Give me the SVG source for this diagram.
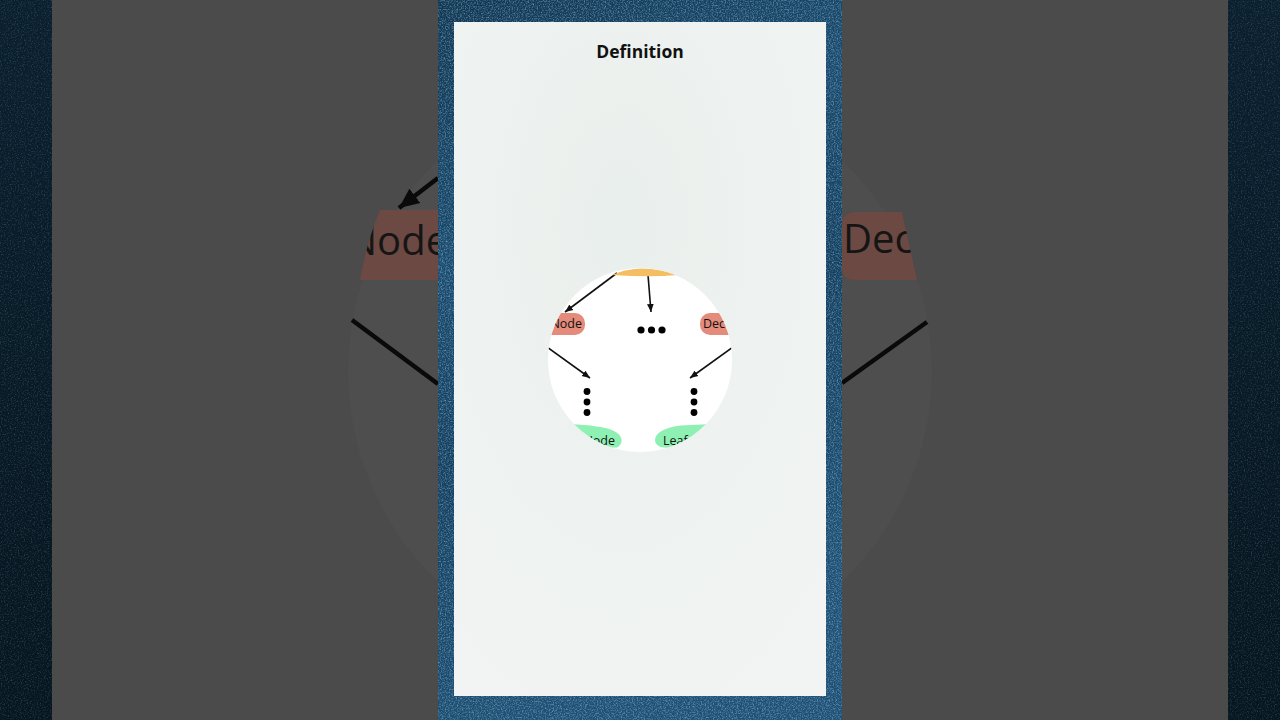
<svg xmlns="http://www.w3.org/2000/svg" width="1280" height="720" viewBox="0 0 1280 720">
<defs>
<style>
.lbl{font-family:"Open Sans","DejaVu Sans",sans-serif;font-size:12.5px;fill:#111}
.big{font-family:"Open Sans","DejaVu Sans",sans-serif;font-size:40px;fill:#151515}
.title{font-family:"Open Sans","DejaVu Sans",sans-serif;font-size:17.5px;font-weight:700;fill:#111}
.conn{stroke:#111;stroke-width:1.6;fill:none}
.connBig{stroke:#0a0a0a;stroke-width:4.5;fill:none}
.dot{fill:#000}
.salmon{fill:#e48b7b}
.green{fill:#8ff0b3}
.orange{fill:#f4be62}
</style>
<marker id="ah" markerUnits="userSpaceOnUse" markerWidth="8" markerHeight="8" viewBox="0 0 10 10" refX="10" refY="5" orient="auto"><path d="M0,0.8 L10,5 L0,9.2 Z" fill="#111"/></marker>
<marker id="ahBig" markerUnits="userSpaceOnUse" markerWidth="20" markerHeight="20" viewBox="0 0 10 10" refX="10" refY="5" orient="auto"><path d="M0,0.5 L10,5 L0,9.5 Z" fill="#0a0a0a"/></marker>
<clipPath id="circ"><circle cx="640" cy="360" r="92"/></clipPath>
<clipPath id="lp"><rect x="52" y="0" width="386" height="720"/></clipPath>
<clipPath id="rp"><rect x="842" y="0" width="386" height="720"/></clipPath>
<clipPath id="lpNode"><path d="M380,210 L438,210 L438,280 L360,280 Q366,244 380,210 Z"/></clipPath>
<clipPath id="rpNode"><path d="M842,222 Q844,212 856,212 L902,212 L917,280 L856,280 Q842,280 842,268 Z"/></clipPath>
<linearGradient id="blue" x1="0" y1="0" x2="0.3" y2="1">
<stop offset="0" stop-color="#123650"/>
<stop offset="0.35" stop-color="#1b4a6c"/>
<stop offset="0.6" stop-color="#163f5e"/>
<stop offset="1" stop-color="#1f5073"/>
</linearGradient>
<linearGradient id="edge" x1="0" y1="0" x2="0" y2="1">
<stop offset="0" stop-color="#0b1f2e"/>
<stop offset="1" stop-color="#07161f"/>
</linearGradient>
<radialGradient id="card" cx="0.45" cy="0.3" r="0.8">
<stop offset="0" stop-color="#e9efec"/>
<stop offset="0.5" stop-color="#eef2f0"/>
<stop offset="1" stop-color="#f1f4f2"/>
</radialGradient>
<filter id="noise" x="0" y="0" width="1" height="1">
<feTurbulence type="fractalNoise" baseFrequency="0.75" numOctaves="3" seed="4"/>
<feColorMatrix type="matrix" values="0 0 0 0 0.3  0 0 0 0 0.58  0 0 0 0 0.82  1.3 0 0 0 -0.55"/>
</filter>
<filter id="noiseDark" x="0" y="0" width="1" height="1">
<feTurbulence type="fractalNoise" baseFrequency="0.7" numOctaves="2" seed="9"/>
<feColorMatrix type="matrix" values="0 0 0 0 0.12  0 0 0 0 0.25  0 0 0 0 0.35  1 0 0 0 -0.5"/>
</filter>
</defs>

<!-- outer dark textured edges -->
<rect x="0" y="0" width="1280" height="720" fill="url(#edge)"/>
<rect x="0" y="0" width="52" height="720" filter="url(#noiseDark)"/>
<rect x="1228" y="0" width="52" height="720" filter="url(#noiseDark)"/>

<!-- blurred side panels -->
<rect x="52" y="0" width="1176" height="720" fill="#4a4b4a"/>
<g clip-path="url(#lp)">
<circle cx="640" cy="371" r="292" fill="#4d4e4d"/>
</g>
<g clip-path="url(#rp)">
<circle cx="640" cy="371" r="292" fill="#4d4e4d"/>
</g>

<g id="side-left">
<path d="M380,210 L438,210 L438,280 L360,280 Q366,244 380,210 Z" fill="#6c4942"/>
<g clip-path="url(#lpNode)"><text class="big" x="347" y="255">Node</text></g>
<line class="connBig" x1="438" y1="178" x2="399" y2="208" marker-end="url(#ahBig)"/>
<line class="connBig" x1="352" y1="320" x2="438" y2="384"/>
</g>
<g id="side-right">
<path d="M842,222 Q844,212 856,212 L902,212 L917,280 L856,280 Q842,280 842,268 Z" fill="#6c4942"/>
<g clip-path="url(#rpNode)"><text class="big" x="843" y="253" font-size="38">Dec</text></g>
<line class="connBig" x1="927" y1="322" x2="842" y2="383"/>
</g>

<!-- blue textured strip -->
<rect x="438" y="0" width="404" height="720" fill="url(#blue)"/>
<rect x="438" y="0" width="404" height="720" filter="url(#noise)"/>

<!-- card -->
<rect x="454" y="22" width="372" height="674" fill="url(#card)"/>
<text class="title" x="640" y="58" text-anchor="middle">Definition</text>

<!-- white reveal circle -->
<circle cx="640" cy="360" r="92" fill="#ffffff"/>

<g clip-path="url(#circ)">
<g id="connectors">
<line class="conn" x1="617" y1="273" x2="565" y2="312" marker-end="url(#ah)"/>
<line class="conn" x1="648" y1="275" x2="651" y2="312" marker-end="url(#ah)"/>
<line class="conn" x1="540" y1="342" x2="590" y2="378" marker-end="url(#ah)"/>
<line class="conn" x1="740" y1="342" x2="690" y2="378" marker-end="url(#ah)"/>
</g>

<g id="node-root">
<path class="orange" d="M612,275 Q640,262 678,275 Q650,277.5 612,275 Z"/>
</g>

<g id="node-left">
<rect class="salmon" x="520" y="313" width="65" height="22" rx="10"/>
<text class="lbl" x="582" y="328" text-anchor="end">Node</text>
</g>

<g id="node-right">
<rect class="salmon" x="700" y="313" width="70" height="22" rx="10"/>
<text class="lbl" x="703" y="328">Dec</text>
</g>

<g id="ellipsis-mid">
<circle class="dot" cx="641" cy="330" r="3.6"/>
<circle class="dot" cx="651.5" cy="330" r="3.6"/>
<circle class="dot" cx="662" cy="330" r="3.6"/>
</g>

<g id="ellipsis-left">
<circle class="dot" cx="587" cy="391.5" r="3.4"/>
<circle class="dot" cx="587" cy="402" r="3.4"/>
<circle class="dot" cx="587" cy="412.5" r="3.4"/>
</g>

<g id="ellipsis-right">
<circle class="dot" cx="694" cy="391.5" r="3.4"/>
<circle class="dot" cx="694" cy="402" r="3.4"/>
<circle class="dot" cx="694" cy="412.5" r="3.4"/>
</g>

<g id="leaf-left">
<path class="green" d="M570,424 C590,425 606,427 614,431 C623,435 624,444 617,447.5 L600,448 C590,440 580,432 570,424 Z"/>
<text class="lbl" x="615" y="445" text-anchor="end">Node</text>
</g>

<g id="leaf-right">
<path class="green" d="M712,424 L681,425.5 C665,427 655,433 655,440 C655,446 662,448.5 670,447.5 L690,444 Z"/>
<text class="lbl" x="663" y="445">Leaf</text>
</g>
</g>
</svg>
